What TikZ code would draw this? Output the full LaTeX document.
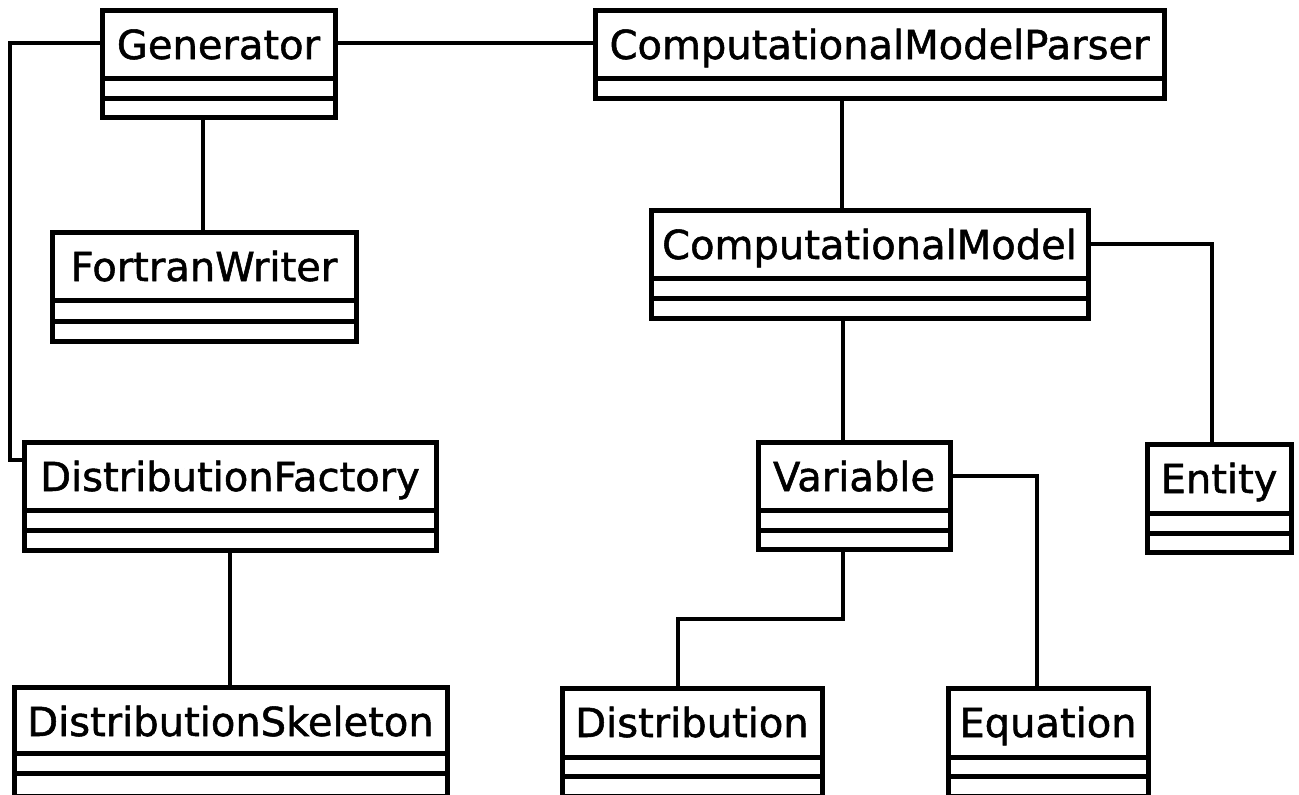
\documentclass[tikz,border=0pt]{standalone}
\usepackage{fontspec}
\setmainfont{DejaVu Sans}
\newfontfamily\lblfont{DejaVu Sans}[FakeBold=1.3]
\begin{document}
\begin{tikzpicture}[x=1pt,y=-1pt,
  boxline/.style={line width=5pt},
  conn/.style={line width=4.5pt},
  lbl/.style={font=\lblfont\fontsize{40}{44}\selectfont, inner sep=0pt, anchor=base}]
\useasboundingbox (0,0) rectangle (1299,795);
% \umlbox{name}{x1}{y1}{x2}{y2}{sep1}{sep2 or empty}{text}
\newcommand{\umlbox}[8]{%
  \node[boxline, draw, rectangle, inner sep=0pt, minimum width={#4-#2}, minimum height={#5-#3}]
     (#1) at ({(#2+#4)/2},{(#3+#5)/2}) {};
  \node[lbl] (#1T) at ({(#2+#4)/2},{#3+49}) {#8};
  \draw[boxline] (#2,#6) -- (#4,#6);
  \ifx&#7&\else\draw[boxline] (#2,#7) -- (#4,#7);\fi
}
\umlbox{gen}{102}{10}{335}{117}{78}{98}{Generator}
\umlbox{cmp}{595}{10}{1164}{98}{78}{}{ComputationalModelParser}
\umlbox{fw}{52}{232}{356}{341}{300}{321}{FortranWriter}
\umlbox{cm}{651}{210}{1088}{318}{278}{298}{ComputationalModel}
\umlbox{df}{24}{442}{436}{550}{510}{530}{DistributionFactory}
\umlbox{ds}{14}{687}{447}{796}{753}{773}{DistributionSkeleton}
\umlbox{var}{758}{442}{950}{549}{510}{530}{Variable}
\umlbox{ent}{1147}{444}{1291}{552}{513}{533}{Entity}
\umlbox{dist}{562}{688}{822}{796}{757}{776}{Distribution}
\umlbox{eq}{948}{688}{1148}{796}{757}{776}{Equation}
% connectors
\coordinate (c1) at (10,43);
\coordinate (c2) at (10,460);
\draw[conn] (gen.west |- c1) -- (c1) -- (c2) -- (df.west |- c2);
\draw[conn] (gen.east |- c1) -- (cmp.west |- c1);
\draw[conn] (gen.south -| 203,0) -- (fw.north -| 203,0);
\draw[conn] (cmp.south -| 842,0) -- (cm.north -| 842,0);
\coordinate (c3) at (1212,244);
\draw[conn] (cm.east |- c3) -- (c3) -- (ent.north -| c3);
\draw[conn] (cm.south -| 843,0) -- (var.north -| 843,0);
\coordinate (c4) at (1037,476);
\draw[conn] (var.east |- c4) -- (c4) -- (eq.north -| c4);
\coordinate (c5) at (843,619);
\coordinate (c6) at (678,619);
\draw[conn] (var.south -| c5) -- (c5) -- (c6) -- (dist.north -| c6);
\draw[conn] (df.south -| 230,0) -- (ds.north -| 230,0);
\end{tikzpicture}
\end{document}
